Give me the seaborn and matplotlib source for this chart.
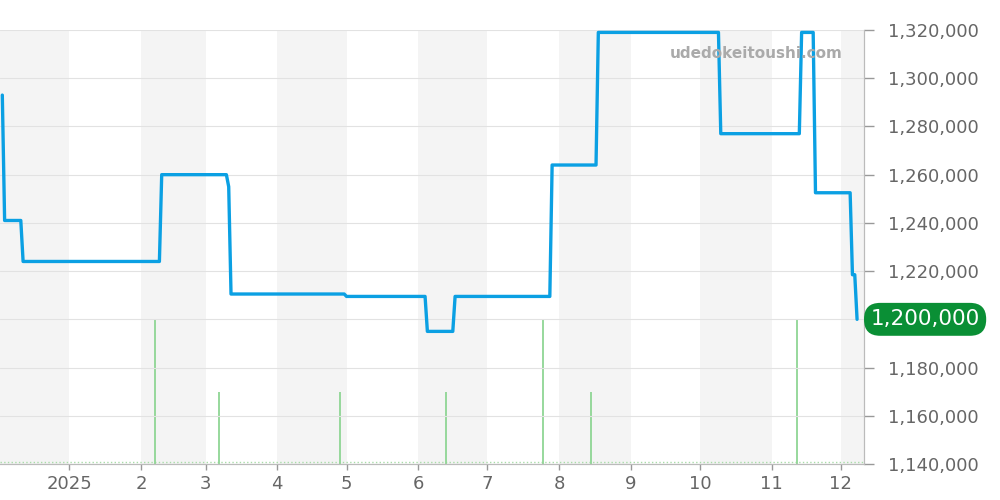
import pandas as pd
import matplotlib.pyplot as plt
import matplotlib.transforms as mtransforms
import seaborn as sns

# Price history (step changes)
dates = ['2024-12-03', '2024-12-04', '2024-12-11', '2024-12-12', '2025-02-09', '2025-02-10',
         '2025-03-10', '2025-03-11', '2025-03-12', '2025-04-30', '2025-05-01', '2025-06-04',
         '2025-06-05', '2025-06-16', '2025-06-17', '2025-07-28', '2025-07-29', '2025-08-17',
         '2025-08-18', '2025-10-09', '2025-10-10', '2025-11-13', '2025-11-14', '2025-11-19',
         '2025-11-20', '2025-12-05', '2025-12-06', '2025-12-07', '2025-12-08']
prices = [1293000, 1241000, 1241000, 1224000, 1224000, 1260000,
          1260000, 1255000, 1210500, 1210500, 1209500, 1209500,
          1195000, 1195000, 1209500, 1209500, 1264000, 1264000,
          1319000, 1319000, 1277000, 1277000, 1319000, 1319000,
          1252500, 1252500, 1218500, 1218500, 1200000]

# Volume bars
vol_dates = ['2025-02-07', '2025-03-07', '2025-04-28', '2025-06-13', '2025-07-25', '2025-08-15', '2025-11-12']
vol_counts = [2, 1, 1, 1, 2, 1, 2]

tick_labels = ['2025', '2', '3', '4', '5', '6', '7', '8', '9', '10', '11', '12']

df = pd.DataFrame({'date': pd.to_datetime(dates), 'price': prices})
vol = pd.DataFrame({'date': pd.to_datetime(vol_dates), 'n': vol_counts})

sns.set_style('white')
plt.rcParams['font.family'] = ['DejaVu Sans']

fig = plt.figure(figsize=(10, 5), dpi=100)
axv = fig.add_axes([0.0, 0.072, 0.864, 0.868])
ax = axv.twinx()

x0, x1 = pd.Timestamp('2024-12-02'), pd.Timestamp('2025-12-11')

# alternating month shading
months = pd.date_range('2024-12-01', '2026-01-01', freq='MS')
for i in range(len(months) - 1):
    if i % 2 == 0:
        axv.axvspan(months[i], months[i + 1], color='#f4f4f4', lw=0, zorder=0)

# volume
axv.vlines(vol['date'], 0, vol['n'], color='#8fd694', lw=1.3, zorder=2)
axv.axhline(0.03, color='#a8dca8', lw=1, ls=':', zorder=1)
axv.set_ylim(0, 6)
axv.set_yticks([])

# price line
sns.lineplot(data=df, x='date', y='price', ax=ax, color='#0ba0e3', lw=2.4, zorder=5)
ax.set_ylim(1140000, 1320000)
ax.set_yticks(range(1140000, 1320001, 20000))
last = prices[-1]
ax.yaxis.set_major_formatter(plt.FuncFormatter(lambda v, p: '' if v == last else f'{v:,.0f}'))
ax.yaxis.tick_right()
ax.grid(axis='y', color='#e2e2e2', lw=0.8)
ax.set_axisbelow(True)
ax.set_xlabel('')
ax.set_ylabel('')
ax.tick_params(axis='y', colors='#999999', labelcolor='#666666', labelsize=13, length=7, width=1, pad=10, right=True)

axv.set_xlim(x0, x1)
axv.set_xticks(pd.date_range('2025-01-01', '2025-12-01', freq='MS'))
axv.set_xticklabels(tick_labels)
axv.tick_params(axis='x', colors='#999999', labelcolor='#666666', labelsize=13, length=4, width=1, pad=4, bottom=True)

for a in (ax, axv):
    for s in ['top', 'left']:
        a.spines[s].set_visible(False)
    a.spines['right'].set_color('#bbbbbb')
    a.spines['bottom'].set_color('#bbbbbb')

# watermark
ax.text(0.875, 0.945, 'udedokeitoushi.com', transform=ax.transAxes, ha='center', va='center',
        fontsize=11, fontweight='bold', color='#aaaaaa', zorder=6)

# current price label
trans = mtransforms.blended_transform_factory(ax.transAxes, ax.transData)
ax.text(1.0075, last, f'{last:,}', transform=trans, ha='left', va='center',
        fontsize=15.5, color='white', zorder=10, clip_on=False,
        bbox=dict(boxstyle='round,pad=0.3,rounding_size=0.75', fc='#0a8f35', ec='none'))

fig.savefig('out.png', dpi=100)
